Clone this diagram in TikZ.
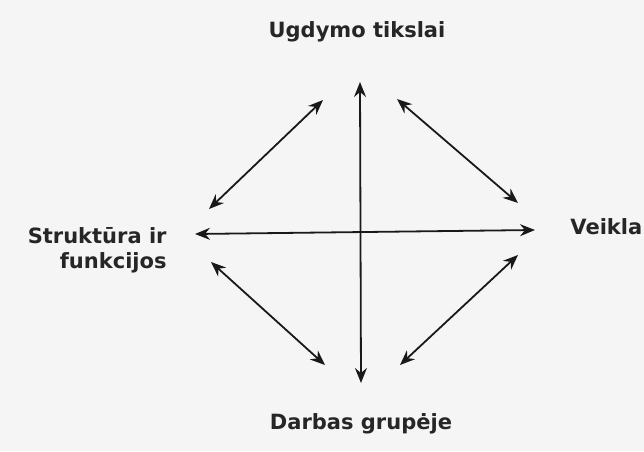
\documentclass[tikz,border=0pt]{standalone}
\usepackage{fontspec}
\setmainfont{DejaVu Sans}
\usetikzlibrary{positioning, arrows.meta}

\begin{document}
\begin{tikzpicture}[x=0.5pt, y=-0.5pt,
    every node/.style={font=\bfseries\fontsize{10.5}{12.5}\selectfont, text=black!85, inner sep=0pt},
    link/.style={{Stealth[length=7.5pt, width=6pt, inset=2.5pt]}-{Stealth[length=7.5pt, width=6pt, inset=2.5pt]}, line width=0.9pt, black!90}]
    % Background
    \fill[black!4] (0,0) rectangle (644,451);
    \useasboundingbox (0,0) rectangle (644,451);

    % Labels
    \node (goals) at (357,32) {Ugdymo tikslai};
    \node (struct) at (167,250) [anchor=east, align=right] {Struktūra ir\\funkcijos};
    \node (act) at (570,227) [anchor=west] {Veikla};
    \node (group) at (361,424) {Darbas grupėje};

    % Arrow ends
    \coordinate (top) at (360,82);
    \coordinate (bottom) at (361,383);
    \coordinate (left) at (195,234);
    \coordinate (right) at (535,230);
    \coordinate (ul1) at (323,100);
    \coordinate (ul2) at (209,209);
    \coordinate (ur1) at (397,99);
    \coordinate (ur2) at (518,203);
    \coordinate (ll1) at (211,262);
    \coordinate (ll2) at (325,365);
    \coordinate (lr1) at (518,255);
    \coordinate (lr2) at (400,365);

    % Arrows
    \draw[link] (bottom) -- (top);
    \draw[link] (left) -- (right);
    \draw[link] (ul2) -- (ul1);
    \draw[link] (ur1) -- (ur2);
    \draw[link] (ll1) -- (ll2);
    \draw[link] (lr2) -- (lr1);
\end{tikzpicture}
\end{document}
